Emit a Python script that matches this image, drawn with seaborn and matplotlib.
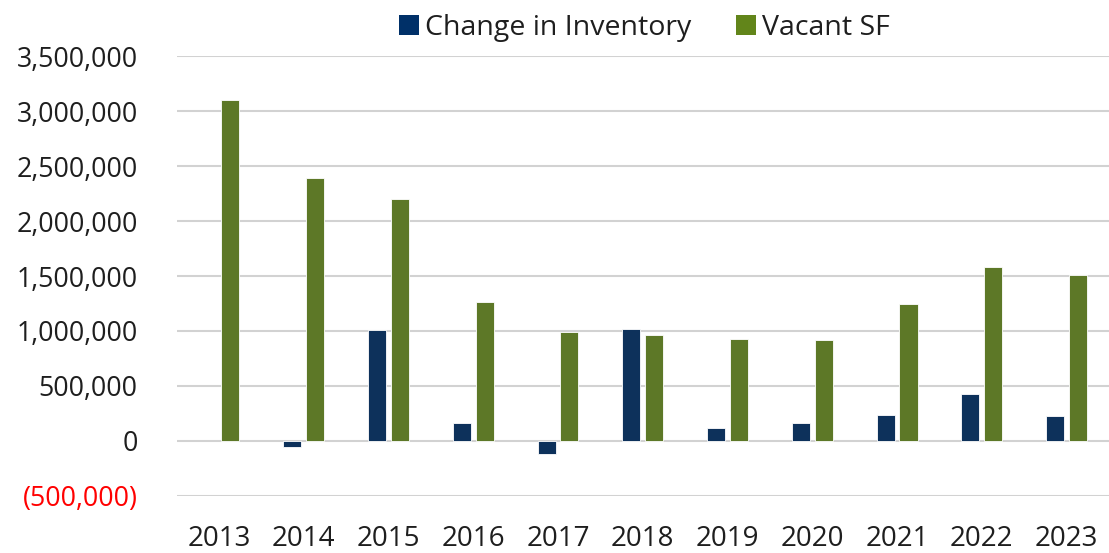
import matplotlib
matplotlib.use("Agg")
import matplotlib.pyplot as plt
import matplotlib.ticker as mticker
from matplotlib.patches import Patch
import seaborn as sns
import pandas as pd

years = ["2013", "2014", "2015", "2016", "2017", "2018", "2019", "2020", "2021", "2022", "2023"]
change_in_inventory = [None, -55000, 1010000, 160000, -115000, 1020000, 120000, 165000, 240000, 430000, 225000]
vacant_sf = [3100000, 2390000, 2200000, 1265000, 995000, 960000, 930000, 920000, 1250000, 1585000, 1510000]
series_names = ["Change in Inventory", "Vacant SF"]
y_ticks = [-500000, 0, 500000, 1000000, 1500000, 2000000, 2500000, 3000000, 3500000]

NAVY = "#003068"
GREEN = "#62851A"

sns.set_theme(style="white")
plt.rcParams['font.family'] = ['Open Sans', 'DejaVu Sans']

df = pd.DataFrame({
    "Year": years * 2,
    "Series": [series_names[0]] * len(years) + [series_names[1]] * len(years),
    "Value": pd.to_numeric(pd.Series(change_in_inventory + vacant_sf, dtype="float")),
})

fig = plt.figure(figsize=(11.09, 5.53), dpi=100)
ax = fig.add_axes([0.1592, 0.1031, 0.8408, 0.7956])

sns.barplot(data=df, x="Year", y="Value", hue="Series", hue_order=series_names,
            order=years, palette=[NAVY, GREEN], width=0.54, gap=0.21,
            edgecolor="white", linewidth=0.6, legend=False, ax=ax, zorder=3)

ax.set_ylim(-500000, 3500000)
ax.set_xlim(-0.5, len(years) - 0.5)
ax.set_yticks(y_ticks)

def fmt(v, pos):
    v = int(round(v))
    if v < 0:
        return "({:,})".format(-v)
    return "{:,}".format(v)

ax.yaxis.set_major_formatter(mticker.FuncFormatter(fmt))
ax.grid(axis="y", color="#D2D2D2", linewidth=1.5, linestyle="-", zorder=0)
ax.grid(axis="x", visible=False)
for s in ax.spines.values():
    s.set_visible(False)
ax.set_xlabel("")
ax.set_ylabel("")
ax.tick_params(axis="y", length=0, pad=28, labelsize=19.3, labelcolor="#1E1E1E")
ax.tick_params(axis="x", length=0, pad=21, labelsize=20, labelcolor="#1E1E1E")
for lab, v in zip(ax.get_yticklabels(), y_ticks):
    if v < 0:
        lab.set_color("#FF0000")

handles = [Patch(facecolor=NAVY, edgecolor="none"), Patch(facecolor=GREEN, edgecolor="none")]
fig.legend(handles, series_names, loc="center", bbox_to_anchor=(0.581, 0.949), ncol=2,
           frameon=False, fontsize=20.5, handlelength=0.7, handleheight=0.7,
           handletextpad=0.2, columnspacing=1.6, labelcolor="#1E1E1E")

fig.savefig("out.png", dpi=100)
